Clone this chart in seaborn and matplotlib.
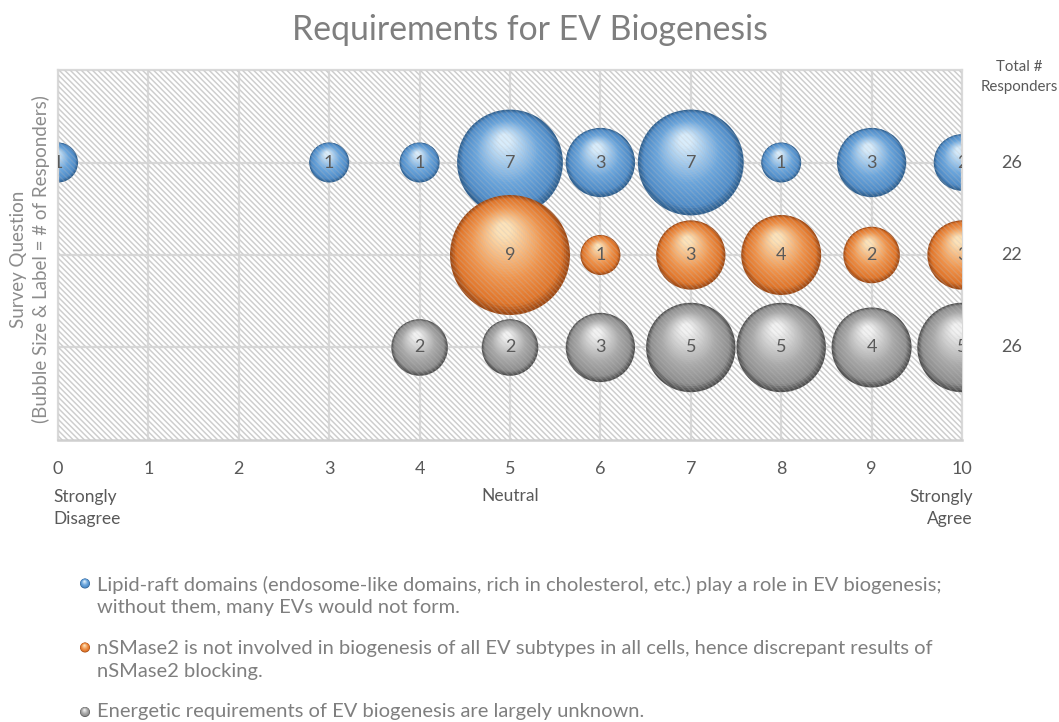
import numpy as np
import pandas as pd
import matplotlib
matplotlib.use("Agg")
import matplotlib.pyplot as plt
from matplotlib.colors import LinearSegmentedColormap
from matplotlib.patches import Rectangle
import seaborn as sns

# ---------------- data ----------------
scale_ticks = [0, 1, 2, 3, 4, 5, 6, 7, 8, 9, 10]
questions = [
    "Lipid-raft domains (endosome-like domains, rich in cholesterol, etc.) play a role in EV biogenesis;\nwithout them, many EVs would not form.",
    "nSMase2 is not involved in biogenesis of all EV subtypes in all cells, hence discrepant results of\nnSMase2 blocking.",
    "Energetic requirements of EV biogenesis are largely unknown.",
]
question_row = [3, 2, 1]

lipid_x = [0, 3, 4, 5, 6, 7, 8, 9, 10]
lipid_n = [1, 1, 1, 7, 3, 7, 1, 3, 2]
nsmase_x = [5, 6, 7, 8, 9, 10]
nsmase_n = [9, 1, 3, 4, 2, 3]
energy_x = [4, 5, 6, 7, 8, 9, 10]
energy_n = [2, 2, 3, 5, 5, 4, 5]
totals = [26, 22, 26]

series_x = [lipid_x, nsmase_x, energy_x]
series_n = [lipid_n, nsmase_n, energy_n]

# sphere colours: dark rim, body, highlight
palettes = [
    ["#2f6090", "#4f8cc8", "#6aa5dc", "#d8ecfb"],
    ["#a04a14", "#e07428", "#f0944c", "#fde2b8"],
    ["#505050", "#8e8e8e", "#a9a9a9", "#f2f2f2"],
]

# ---------------- layout ----------------
W, H = 1059, 722
fig = plt.figure(figsize=(W / 100, H / 100), dpi=100)
sns.set_style("white")
plt.rcParams["font.family"] = ["Lato", "DejaVu Sans"]

L, R, T, B = 58, 962, 70, 440
ax = fig.add_axes([L / W, 1 - B / H, (R - L) / W, (B - T) / H])
ax.set_xlim(0, 10)
ax.set_ylim(0, 4)

# px -> data
dx = 10 / (R - L)
dy = 4 / (B - T)
R_UNIT = 20.0  # px radius for a bubble of value 1
S_UNIT = (2 * R_UNIT * 0.72) ** 2  # marker area (pt^2) for value 1

# hatched background
bg = Rectangle((0, 0), 1, 1, transform=ax.transAxes, facecolor="white",
               edgecolor="#d2d2d2", hatch="\\\\\\\\\\\\", lw=0, zorder=0.2)
ax.add_patch(bg)

ax.set_xticks(scale_ticks)
ax.set_yticks([1, 2, 3])
ax.grid(True, color="#d9d9d9", lw=1.6, zorder=0.5)
ax.set_axisbelow(True)
for side in ["left", "right", "top"]:
    ax.spines[side].set_color("#d9d9d9")
    ax.spines[side].set_linewidth(1.6)
ax.spines["bottom"].set_color("#cfcfcf")
ax.spines["bottom"].set_linewidth(1.8)
ax.tick_params(axis="x", length=0, labelsize=13, labelcolor="#595959", pad=15)
ax.tick_params(axis="y", length=0, labelleft=False)

NL = 30
hx, hy = -0.10, 0.42


def sphere_cmap(name, pal):
    return LinearSegmentedColormap.from_list(
        name, [(0.0, pal[0]), (0.12, pal[1]), (0.45, pal[2]), (1.0, pal[3])])


for si, (xs, ns) in enumerate(zip(series_x, series_n)):
    cmap = sphere_cmap(f"s{si}", palettes[si])
    xs_a = np.array(xs, float)
    ns_a = np.array(ns, float)
    r_px = R_UNIT * np.sqrt(ns_a)
    for k in range(NL):
        t = k / (NL - 1)
        shrink = 1 - 0.88 * t
        df = pd.DataFrame({
            "x": xs_a + t * hx * r_px * dx,
            "y": question_row[si] + t * hy * r_px * dy,
            "n": ns_a,
        })
        sns.scatterplot(data=df, x="x", y="y", size="n",
                        sizes=(0, S_UNIT * 9 * shrink ** 2), size_norm=(0, 9),
                        color=cmap(t), edgecolor="none",
                        linewidth=0, legend=False, ax=ax, zorder=2 + si)
    for x, n in zip(xs, ns):
        ax.text(x, question_row[si], str(n), ha="center", va="center",
                fontsize=13, color="#5a5a5a", zorder=10, clip_on=True)

# faint hatch over bubbles for the semi-transparent look
ov = Rectangle((0, 0), 1, 1, transform=ax.transAxes, facecolor="none",
               edgecolor="#bfbfbf", hatch="\\\\\\\\\\\\", lw=0, alpha=0.25, zorder=8)
ax.add_patch(ov)
ax.set_xlabel("")
ax.set_ylabel("")

# ---------------- texts ----------------
def ft(x, y, s, **kw):
    fig.text(x / W, 1 - y / H, s, **kw)

ft(530, 30, "Requirements for EV Biogenesis", ha="center", va="center",
   fontsize=24.3, color="#7f7f7f", fontweight="normal")

ft(53, 508, "Strongly\nDisagree", ha="left", va="center", fontsize=12.5,
   color="#595959", linespacing=1.4, multialignment="left")
ft(510, 496, "Neutral", ha="center", va="center", fontsize=12.5, color="#595959")
ft(973, 508, "Strongly\nAgree", ha="right", va="center", fontsize=12.5,
   color="#595959", linespacing=1.4, multialignment="right")

ft(30, 259, "Survey Question\n(Bubble Size & Label = # of Responders)",
   ha="center", va="center", rotation=90, fontsize=13.5, color="#8c8c8c",
   linespacing=1.35)

ft(1019, 77, "Total #\nResponders", ha="center", va="center", fontsize=10.8,
   color="#595959", linespacing=1.5)
for row, tot in zip(question_row, totals):
    yp = B - row * (B - T) / 4
    ft(1012, yp, str(tot), ha="center", va="center", fontsize=13, color="#595959")

# ---------------- legend ----------------
lax = fig.add_axes([0, 0, 1, 1])
lax.set_xlim(0, W)
lax.set_ylim(H, 0)
lax.axis("off")
leg_y = [596, 660, 712]
for si, (q, yy) in enumerate(zip(questions, leg_y)):
    first_y = yy - 12.5 if "\n" in q else yy
    cmap = sphere_cmap(f"l{si}", palettes[si])
    rr = 5.0
    for k in range(12):
        t = k / 11
        lax.scatter([85 + t * hx * rr], [first_y - t * hy * rr],
                    s=(2 * rr * (1 - 0.88 * t) * 0.72) ** 2,
                    color=cmap(t), edgecolor="none", zorder=3)
    lax.text(97, yy, q, ha="left", va="center", fontsize=14.5,
             color="#7f7f7f", linespacing=1.42)

fig.savefig("out.png", dpi=100)
